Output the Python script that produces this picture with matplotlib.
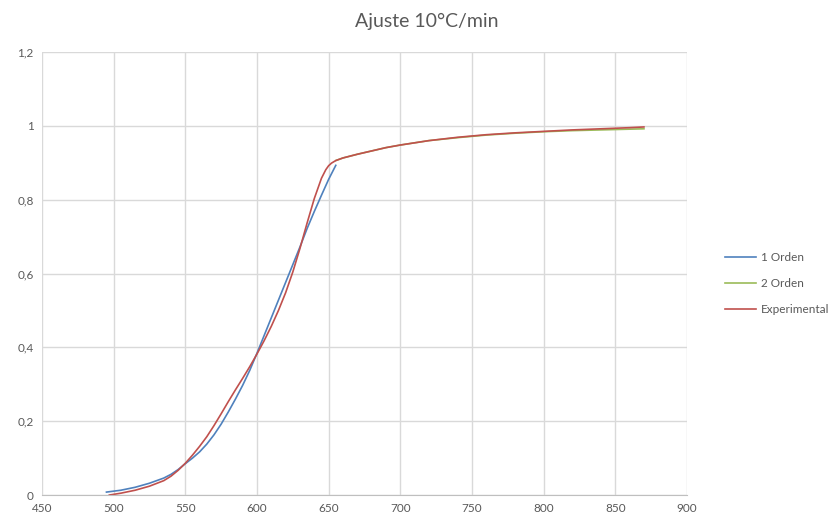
import matplotlib.pyplot as plt
from matplotlib.ticker import FuncFormatter

plt.rcParams['font.family'] = ['Lato', 'DejaVu Sans']

# Temperatura (°C) y conversión
x_orden1 = [495, 505, 515, 525, 535, 540, 545, 550, 555, 560, 565, 570, 575, 580,
            585, 590, 595, 600, 605, 610, 615, 620, 625, 630, 635, 640, 645, 650, 655]
y_orden1 = [0.008, 0.013, 0.021, 0.032, 0.046, 0.056, 0.069, 0.085, 0.100, 0.117,
            0.138, 0.163, 0.192, 0.225, 0.260, 0.297, 0.338, 0.384, 0.432, 0.480,
            0.528, 0.576, 0.624, 0.672, 0.722, 0.768, 0.812, 0.855, 0.893]

x_orden2 = [655, 660, 670, 680, 690, 700, 720, 740, 760, 780, 800, 820, 840, 860, 870]
y_orden2 = [0.906, 0.913, 0.923, 0.932, 0.941, 0.948, 0.960, 0.968, 0.975, 0.980,
            0.984, 0.987, 0.989, 0.991, 0.992]

x_exp = [497, 505, 515, 525, 535, 540, 545, 550, 555, 560, 565, 570, 575, 580, 585,
         590, 595, 600, 605, 610, 615, 620, 625, 630, 635, 640, 645, 648, 650, 652,
         655, 660, 670, 680, 690, 700, 720, 740, 760, 780, 800, 820, 840, 860, 870]
y_exp = [0.000, 0.005, 0.013, 0.024, 0.039, 0.051, 0.067, 0.086, 0.108, 0.132,
         0.158, 0.188, 0.220, 0.253, 0.285, 0.316, 0.348, 0.382, 0.418, 0.457,
         0.500, 0.548, 0.604, 0.668, 0.737, 0.803, 0.858, 0.881, 0.892, 0.899,
         0.906, 0.913, 0.923, 0.932, 0.941, 0.948, 0.960, 0.969, 0.976, 0.981,
         0.985, 0.989, 0.992, 0.995, 0.997]

TEXT = '#595959'
GRID = '#D9D9D9'

fig = plt.figure(figsize=(8.36, 5.2), dpi=100)
ax = fig.add_axes([0.0502, 0.048, 0.7715, 0.852])

ax.plot(x_orden1, y_orden1, color='#4F81BD', lw=1.2, label='1 Orden')
ax.plot(x_orden2, y_orden2, color='#9BBB59', lw=1.2, label='2 Orden')
ax.plot(x_exp, y_exp, color='#C0504D', lw=1.2, label='Experimental')

ax.set_xlim(450, 900)
ax.set_ylim(0, 1.2)
ax.set_xticks(range(450, 901, 50))
ax.set_yticks([0, 0.2, 0.4, 0.6, 0.8, 1.0, 1.2])
ax.yaxis.set_major_formatter(FuncFormatter(
    lambda v, p: '0' if v == 0 else ('1' if abs(v - 1) < 1e-9 else f'{v:.1f}'.replace('.', ','))))

ax.grid(True, color=GRID, lw=1)
ax.set_axisbelow(True)
for side in ['top', 'right', 'left']:
    ax.spines[side].set_visible(False)
ax.spines['bottom'].set_color('#BFBFBF')
ax.tick_params(length=0, labelsize=8.5, colors=TEXT, pad=6)

fig.suptitle('Ajuste 10°C/min', x=0.51, y=0.975, fontsize=14, color=TEXT)

fig.legend(loc='center left', bbox_to_anchor=(0.855, 0.455), frameon=False,
           fontsize=8.5, labelcolor=TEXT, handlelength=2.6, handletextpad=0.4,
           labelspacing=1.25)

fig.savefig('out.png', dpi=100)
